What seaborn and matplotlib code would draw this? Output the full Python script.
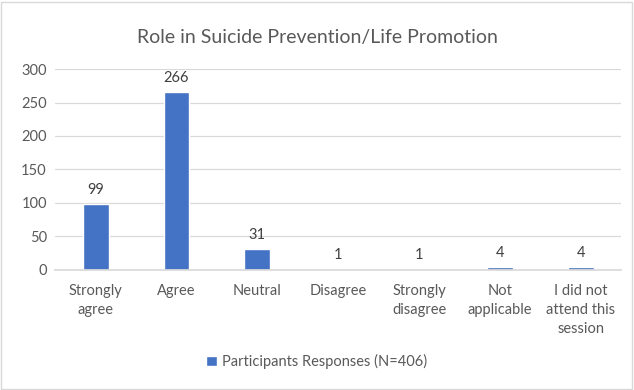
import matplotlib
matplotlib.use("Agg")
import matplotlib.pyplot as plt
import seaborn as sns
import pandas as pd
from matplotlib.patches import Rectangle

categories = ["Strongly\nagree", "Agree", "Neutral", "Disagree", "Strongly\ndisagree",
              "Not\napplicable", "I did not\nattend this\nsession"]
values = [99, 266, 31, 1, 1, 4, 4]
series_name = "Participants Responses (N=406)"
title = "Role in Suicide Prevention/Life Promotion"
yticks = [0, 50, 100, 150, 200, 250, 300]

sns.set_theme(style="white")
plt.rcParams['font.family'] = ['Lato', 'DejaVu Sans']

df = pd.DataFrame({"cat": categories, "val": values, "series": series_name})

fig = plt.figure(figsize=(6.34, 3.90), dpi=100)
ax = fig.add_axes([0.087, 0.308, 0.893, 0.515])
sns.barplot(data=df, x="cat", y="val", hue="series", palette=["#4472C4"],
            width=0.32, ax=ax, saturation=1, legend=True)

ax.set_ylim(0, 300)
ax.set_yticks(yticks)
ax.set_xlim(-0.5, len(categories) - 0.5)
ax.yaxis.grid(True, color="#d9d9d9", linewidth=0.9)
ax.set_axisbelow(True)
for s in ["top", "right", "left"]:
    ax.spines[s].set_visible(False)
ax.spines["bottom"].set_color("#d9d9d9")
ax.tick_params(axis="both", length=0, labelsize=10.5, labelcolor="#595959")
ax.tick_params(axis="x", pad=10)
ax.tick_params(axis="y", pad=6)
for lbl in ax.get_xticklabels():
    lbl.set_linespacing(1.45)
ax.set_xlabel("")
ax.set_ylabel("")
for c in ax.containers:
    ax.bar_label(c, labels=[str(v) for v in values], padding=5, fontsize=10.5, color="#404040")

ax.legend(frameon=False, fontsize=10.5, labelcolor="#595959", handlelength=0.7, handleheight=0.7,
          handletextpad=0.4)
leg = ax.get_legend()
leg.set_bbox_to_anchor((0.5, 0.072), transform=fig.transFigure)
leg.set_loc("center")

fig.text(0.5, 0.905, title, ha="center", va="center", fontsize=14, color="#595959")
fig.patches.append(Rectangle((0.002, 0.003), 0.995, 0.993, transform=fig.transFigure,
                             fill=False, edgecolor="#d9d9d9", linewidth=1))
fig.savefig("out.png", dpi=100)
